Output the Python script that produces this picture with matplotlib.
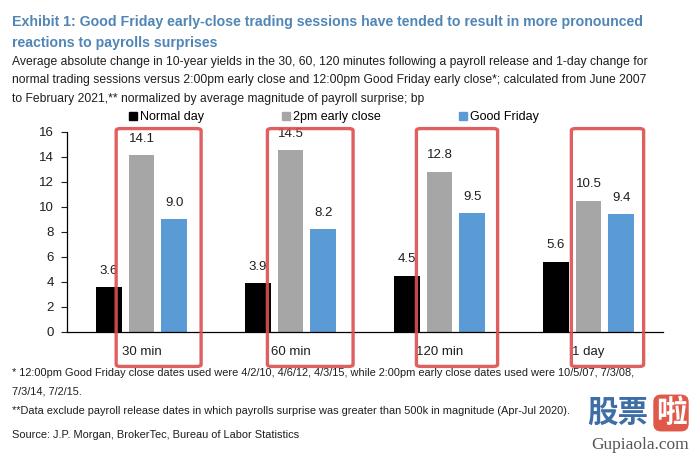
import numpy as np
import matplotlib
matplotlib.use("Agg")
import matplotlib.pyplot as plt
from matplotlib.lines import Line2D
from matplotlib.patches import FancyBboxPatch


# data
categories = ["30 min", "60 min", "120 min", "1 day"]
series = ["Normal day", "2pm early close", "Good Friday"]
normal_day = [3.6, 3.9, 4.5, 5.6]
early_close = [14.1, 14.5, 12.8, 10.5]
good_friday = [9.0, 8.2, 9.5, 9.4]
yticks = [0, 2, 4, 6, 8, 10, 12, 14, 16]

colors = ["#000000", "#a6a6a6", "#5b9bd5"]
red = "#dc4f4f"
title_blue = "#5086b6"
txt = "#1e1e1e"

title_lines = ["Exhibit 1: Good Friday early-close trading sessions have tended to result in more pronounced",
               "reactions to payrolls surprises"]
subtitle_lines = ["Average absolute change in 10-year yields in the 30, 60, 120 minutes following a payroll release and 1-day change for",
                  "normal trading sessions versus 2:00pm early close and 12:00pm Good Friday early close*; calculated from June 2007",
                  "to February 2021,** normalized by average magnitude of payroll surprise; bp"]
note_lines = ["* 12:00pm Good Friday close dates used were 4/2/10, 4/6/12, 4/3/15, while 2:00pm early close dates used were 10/5/07, 7/3/08,",
              "7/3/14, 7/2/15.",
              "**Data exclude payroll release dates in which payrolls surprise was greater than 500k in magnitude (Apr-Jul 2020).",
              "Source: J.P. Morgan, BrokerTec, Bureau of Labor Statistics"]

plt.rcParams["font.family"] = ["Liberation Sans", "DejaVu Sans"]

W, H = 697, 454
fig = plt.figure(figsize=(W / 100, H / 100), dpi=100)
ax = fig.add_axes([67 / W, 1 - 332 / H, (663 - 67) / W, (332 - 131.7) / H])

# %% bars
x = np.arange(len(categories))
width = 0.174
step = 0.221
for k, (vals, c) in enumerate(zip([normal_day, early_close, good_friday], colors)):
    pos = x + (k - 1) * step
    bars = ax.bar(pos, vals, width, color=c, zorder=2)
    for b, v in zip(bars, vals):
        ax.annotate(f"{v:.1f}", (b.get_x() + b.get_width() / 2, v), xytext=(0, 7.5),
                    textcoords="offset points", ha="center", va="bottom",
                    fontsize=9.5, color=txt)

ax.set_xlim(-0.5, 3.5)
ax.set_ylim(0, 16)
ax.set_yticks(yticks)
ax.tick_params(axis="y", length=4.5, width=0.8, pad=5, labelsize=9.5, colors=txt)
ax.set_xticks(x)
ax.set_xticklabels(categories, fontsize=9.5, color=txt)
ax.tick_params(axis="x", length=0, pad=10)
for s in ["top", "right"]:
    ax.spines[s].set_visible(False)
ax.spines["left"].set_linewidth(0.9)
ax.spines["bottom"].set_linewidth(0.9)

# red highlight boxes round the early-close bars
box_x = [(-0.17, 0.40), (-0.155, 0.42), (-0.155, 0.39), (-0.115, 0.37)]
for xi, (a, b) in zip(x, box_x):
    ax.add_patch(FancyBboxPatch((xi + a, -2.75), b - a, 19.0,
                                boxstyle="round,pad=0,rounding_size=0.03",
                                mutation_aspect=5, fill=False, ec=red, lw=2.4,
                                alpha=0.9, clip_on=False, zorder=5))

# legend
handles = [Line2D([], [], marker="s", ls="none", color=c, markersize=6) for c in colors]
ax.legend(handles, series, ncol=3, frameon=False, loc="center left",
          bbox_to_anchor=(123 / W, 1 - 117 / H), bbox_transform=fig.transFigure,
          borderpad=0, handlelength=0.55, handletextpad=0.3, columnspacing=6.3,
          fontsize=9)


# %% texts - one line each, font shrunk so the longest line ends where the reference does
def put_lines(lines, ys, right, **kw):
    size = kw.pop("fontsize")
    objs = [fig.text(12 / W, 1 - y / H, s, ha="left", va="center", fontsize=size, **kw)
            for s, y in zip(lines, ys)]
    r = fig.canvas.get_renderer()
    widest = max(t.get_window_extent(r).width for t in objs)
    new = size * (right - 12) / widest
    for t in objs:
        t.set_fontsize(new)
    return objs


put_lines(title_lines, [22, 43], 645, fontsize=11, fontweight="bold", color=title_blue)
put_lines(subtitle_lines, [62, 80.5, 99], 645, fontsize=10, color=txt)
put_lines(note_lines, [373, 391, 411, 435], 640, fontsize=9, color=txt)

# watermark
cjk = ["Noto Sans CJK SC", "DejaVu Sans"]
fig.text(587 / W, 1 - 413 / H, "股票", ha="left", va="center", fontsize=22,
         fontweight="bold", color="#3d6fa6", family=cjk)
fig.text(671 / W, 1 - 413 / H, "啦", ha="center", va="center", fontsize=22,
         fontweight="bold", color="white", family=cjk,
         bbox=dict(boxstyle="round,pad=0.08,rounding_size=0.25", fc="#e0584a", ec="none"))
fig.text(640 / W, 1 - 445 / H, "Gupiaola.com", ha="center", va="center",
         fontsize=12.5, color="#555555", family=["Liberation Serif", "DejaVu Serif"])

fig.savefig("out.png", dpi=100, facecolor="white")
